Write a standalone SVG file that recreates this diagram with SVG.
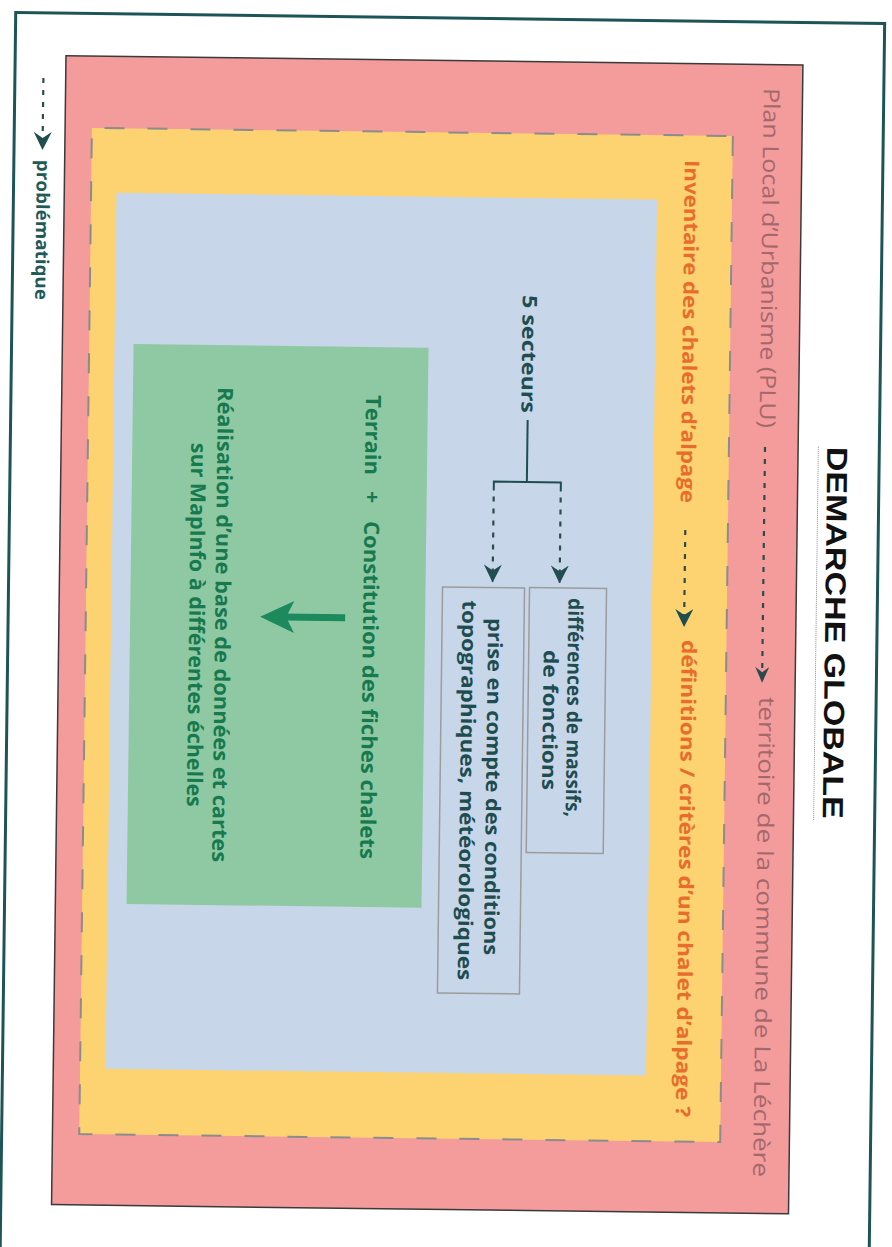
<svg xmlns="http://www.w3.org/2000/svg" width="892" height="1247" viewBox="0 0 892 1247">
<defs>
<marker id="ah" viewBox="0 0 18 18" refX="17" refY="9" markerWidth="18" markerHeight="18" markerUnits="userSpaceOnUse" orient="auto">
<path d="M0,0 L18,9 L0,18 L6,9 Z" fill="#1f4d50"/>
</marker>
<marker id="ahs" viewBox="0 0 18 18" refX="17" refY="9" markerWidth="16" markerHeight="14" markerUnits="userSpaceOnUse" orient="auto" preserveAspectRatio="none">
<path d="M0,0 L18,9 L0,18 L6,9 Z" fill="#2a4a4c"/>
</marker>
</defs>
<style>
.hs{font-family:"Open Sans","Noto Sans","Liberation Sans",sans-serif}
.mauve{fill:#a3686b;font-size:22px;font-weight:500}
.orange{fill:#e86c2c;font-size:20px;font-weight:700}
.teal{fill:#1e4d50;font-size:20px;font-weight:700}
.green{fill:#167a4e;font-size:21px;font-weight:700}
.dash{fill:none;stroke:#2e4b4c;stroke-width:2.2;stroke-dasharray:5 7}
.solid{fill:none;stroke:#1f4d50;stroke-width:2}
.box{fill:none;stroke:#9c9c9c;stroke-width:1.5}
</style>
<rect width="892" height="1247" fill="#ffffff"/>
<g transform="rotate(0.72 446 630) translate(892 0) rotate(90)">
<g id="frame">
<rect x="18" y="15" width="1300" height="869" fill="#ffffff" stroke="#1d5457" stroke-width="3"/>
</g>
<g id="title">
<text x="442" y="67" font-family="Liberation Sans, Arial, sans-serif" font-weight="700" font-size="29" fill="#111111" textLength="372" lengthAdjust="spacingAndGlyphs">DEMARCHE GLOBALE</text>
<line x1="442" y1="76" x2="816" y2="76" stroke="#8a8a8a" stroke-width="1" stroke-dasharray="1 1"/>
</g>
<g id="plu">
<rect x="60.5" y="96.2" width="1149" height="737" fill="#f49b9c" stroke="#3a3a3a" stroke-width="1.5"/>
<text class="hs mauve" x="84" y="135" textLength="340" lengthAdjust="spacingAndGlyphs">Plan Local d’Urbanisme (PLU)</text>
<text class="hs mauve" x="693" y="132" textLength="480" lengthAdjust="spacingAndGlyphs">territoire de la commune de La Léchère</text>
</g>
<g id="inventaire">
<rect x="132.4" y="165.4" width="1006.2" height="641" fill="#fcd370" stroke="#8c8c8c" stroke-width="2" stroke-dasharray="20 23"/>
<text class="hs orange" x="157" y="213" textLength="343" lengthAdjust="spacingAndGlyphs">Inventaire des chalets d’alpage</text>
<text class="hs orange" x="637" y="210" textLength="477" lengthAdjust="spacingAndGlyphs">définitions / critères d’un chalet d’alpage ?</text>
</g>
<g id="secteurs">
<rect x="197" y="240.4" width="876" height="540.6" fill="#c8d6ea"/>
<text class="hs teal" x="294" y="373.5" textLength="118" lengthAdjust="spacingAndGlyphs">5 secteurs</text>
</g>
<g id="massifs">
<rect class="box" x="586.5" y="286" width="265" height="77"/>
<text class="hs teal" x="596.5" y="324" textLength="219" lengthAdjust="spacingAndGlyphs">différences de massifs,</text>
<text class="hs teal" x="648.8" y="348" textLength="140" lengthAdjust="spacingAndGlyphs">de fonctions</text>
</g>
<g id="conditions">
<rect class="box" x="587" y="368" width="406" height="82"/>
<text class="hs teal" x="617.5" y="404" textLength="337" lengthAdjust="spacingAndGlyphs">prise en compte des conditions</text>
<text class="hs teal" x="600" y="430" textLength="380" lengthAdjust="spacingAndGlyphs">topographiques, météorologiques</text>
</g>
<g id="terrain">
<rect x="348" y="467" width="560" height="295" fill="#8fc9a4"/>
<text class="hs green" y="529"><tspan x="396" textLength="80" lengthAdjust="spacingAndGlyphs">Terrain</tspan><tspan x="492">+</tspan><tspan x="522" textLength="338" lengthAdjust="spacingAndGlyphs">Constitution des fiches chalets</tspan></text>
<text class="hs green" x="390" y="677" textLength="475" lengthAdjust="spacingAndGlyphs">Réalisation d’une base de données et cartes</text>
<text class="hs green" x="446" y="703" textLength="364" lengthAdjust="spacingAndGlyphs">sur MapInfo à différentes échelles</text>
</g>
<g id="legende">
<text class="hs" x="165" y="861" font-size="18" font-weight="700" fill="#1e5a5a" textLength="140" lengthAdjust="spacingAndGlyphs">problématique</text>
</g>
<g id="connectors">
<line class="dash" x1="83" y1="855.5" x2="154" y2="855.5" marker-end="url(#ah)"/>
<line class="dash" x1="443" y1="129.3" x2="678" y2="129.3" marker-end="url(#ahs)"/>
<line class="dash" x1="527" y1="208" x2="623" y2="208" marker-end="url(#ah)"/>
<line class="solid" x1="419" y1="367" x2="481" y2="367"/>
<path class="solid" d="M490,333 L481,333 L481,400 L490,400"/>
<line class="dash" x1="496" y1="333" x2="581" y2="333" marker-end="url(#ah)"/>
<line class="dash" x1="496" y1="400" x2="581" y2="400" marker-end="url(#ah)"/>
<g id="green-arrow" fill="#1c8a5c">
<rect x="615.5" y="547" width="7" height="62"/>
<path d="M619,632 L603,598 L619,606 L635,598 Z"/>
</g>
</g>
</g>
</svg>
